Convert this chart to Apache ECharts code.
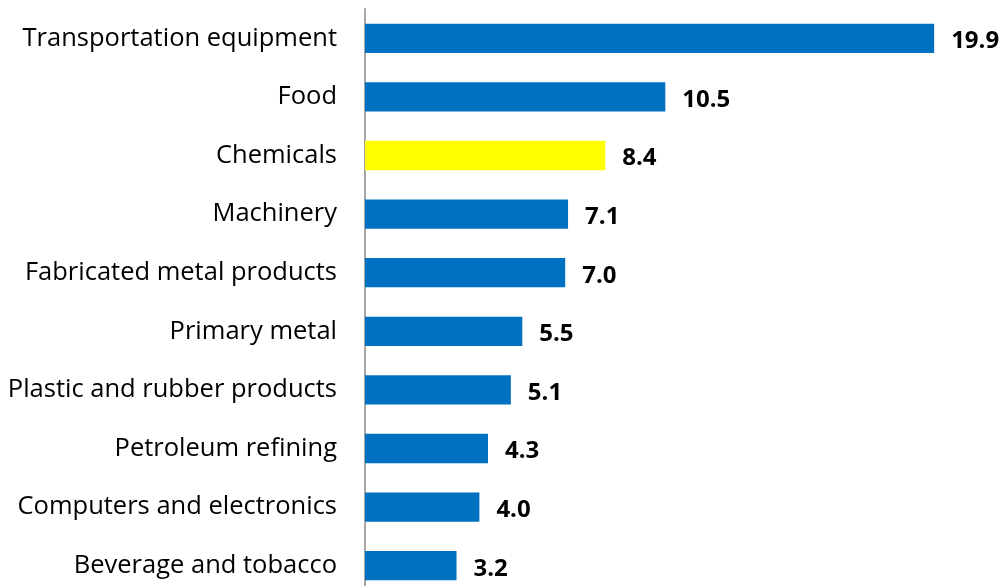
<!DOCTYPE html>
<html>
<head>
<meta charset="utf-8">
<script src="https://cdn.jsdelivr.net/npm/echarts@6/dist/echarts.min.js"></script>
<style>
  html, body { margin: 0; padding: 0; background: #fff; overflow: hidden; }
  /* The plot runs slightly past the bottom edge of the page, so the last bar is trimmed */
  #chart { width: 1005px; height: 595px; }
</style>
</head>
<body>
<div id="chart"></div>
<script>
// Industry categories, listed top to bottom
const categories = [
  'Transportation equipment',
  'Food',
  'Chemicals',
  'Machinery',
  'Fabricated metal products',
  'Primary metal',
  'Plastic and rubber products',
  'Petroleum refining',
  'Computers and electronics',
  'Beverage and tobacco'
];
const values = [19.9, 10.5, 8.4, 7.1, 7.0, 5.5, 5.1, 4.3, 4.0, 3.2];
const highlighted = 'Chemicals';

const BLUE = '#0070C0';
const YELLOW = '#FFFF00';
const FONT = '"Open Sans", "Liberation Sans", sans-serif';

const chart = echarts.init(document.getElementById('chart'));
chart.setOption({
  animation: false,
  grid: { left: 365, right: 68, top: 9, bottom: 0, containLabel: false },
  xAxis: {
    type: 'value', min: 0, max: 20, show: false
  },
  yAxis: {
    type: 'category',
    data: categories,
    inverse: true,
    axisLine: { show: true, lineStyle: { color: '#A6A6A6', width: 2 } },
    axisTick: { show: false },
    axisLabel: {
      color: '#000', fontSize: 25.5, fontFamily: FONT, margin: 28,
      padding: [3, 0, 0, 0]
    }
  },
  series: [{
    type: 'bar',
    barCategoryGap: '50%',
    data: values.map((v, i) => ({
      value: v,
      itemStyle: { color: categories[i] === highlighted ? YELLOW : BLUE }
    })),
    label: {
      show: true,
      position: 'right',
      distance: 17,
      offset: [0, 3],
      color: '#000',
      fontSize: 24,
      fontWeight: 'bold',
      fontFamily: FONT,
      formatter: p => p.value.toFixed(1)
    }
  }]
});
</script>
</body>
</html>
